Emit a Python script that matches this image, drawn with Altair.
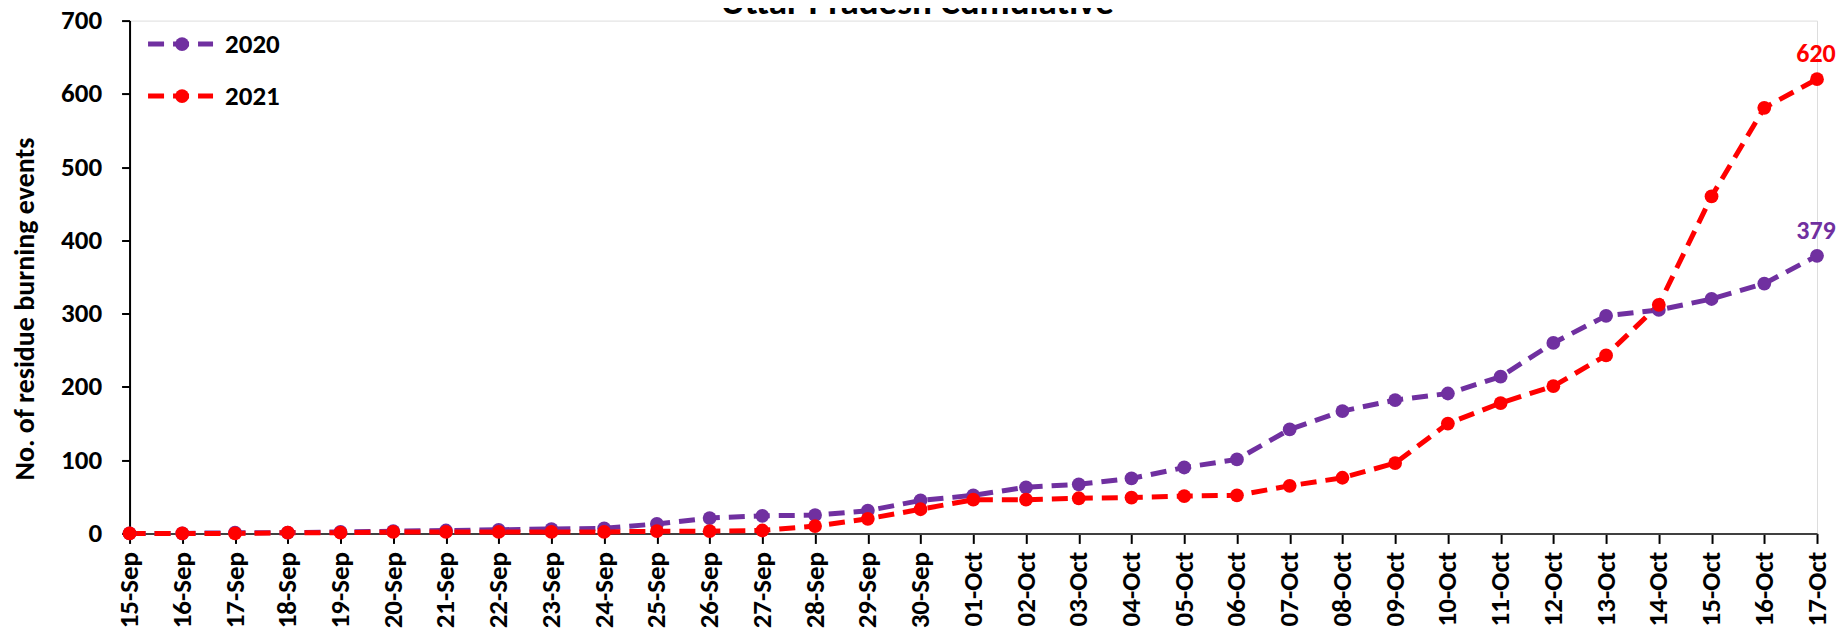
import altair as alt
import pandas as pd

dates = ["15-Sep", "16-Sep", "17-Sep", "18-Sep", "19-Sep", "20-Sep", "21-Sep", "22-Sep",
         "23-Sep", "24-Sep", "25-Sep", "26-Sep", "27-Sep", "28-Sep", "29-Sep", "30-Sep",
         "01-Oct", "02-Oct", "03-Oct", "04-Oct", "05-Oct", "06-Oct", "07-Oct", "08-Oct",
         "09-Oct", "10-Oct", "11-Oct", "12-Oct", "13-Oct", "14-Oct", "15-Oct", "16-Oct", "17-Oct"]
y2020 = [0, 0, 1, 1, 2, 3, 4, 5, 6, 7, 13, 21, 24, 25, 31, 45, 52, 63, 67, 75, 90, 101,
         142, 167, 182, 191, 214, 260, 297, 305, 320, 341, 379]
y2021 = [0, 0, 0, 1, 1, 2, 2, 2, 2, 2, 3, 3, 4, 10, 20, 33, 46, 46, 48, 49, 51, 52,
         65, 76, 96, 150, 178, 201, 243, 312, 460, 581, 620]
series = ["2020", "2021"]
colors = ["#7030A0", "#FF0000"]
title_text = "Uttar Pradesh Cumulative"
y_title = "No. of residue burning events"

FONT = "Carlito, Calibri, Lato, sans-serif"

rows = []
for s, vals in zip(series, [y2020, y2021]):
    for d, v in zip(dates, vals):
        rows.append({"date": d, "year": s, "value": v})
df = pd.DataFrame(rows)
last = pd.DataFrame([{"date": dates[-1], "year": s, "value": vals[-1]}
                     for s, vals in zip(series, [y2020, y2021])])

xenc = alt.X("date:N", sort=dates, scale=alt.Scale(type="point", padding=0),
             axis=alt.Axis(title=None, labelAngle=-90, labelFontSize=27, labelFont=FONT,
                           labelFontWeight="bold", labelColor="black", labelPadding=8,
                           tickSize=10, tickWidth=2, tickColor="black", domainColor="#404040",
                           domainWidth=2, labelOverlap=False, grid=False))
yenc = alt.Y("value:Q", scale=alt.Scale(domain=[0, 700], nice=False),
             axis=alt.Axis(values=[0, 100, 200, 300, 400, 500, 600, 700], title=y_title,
                           titleFont=FONT, titleFontSize=28, titleFontWeight="bold",
                           titleColor="black", titleAngle=-90, titleX=-96, titleY=288,
                           titleAlign="center", titleBaseline="alphabetic",
                           labelFontSize=27, labelFont=FONT, labelFontWeight="bold",
                           labelColor="black", labelPadding=20, tickSize=8, tickWidth=2,
                           tickColor="black", domainColor="black", domainWidth=2, grid=False))
cenc = alt.Color("year:N", scale=alt.Scale(domain=series, range=colors), legend=None)

lines = alt.Chart(df).mark_line(strokeDash=[16, 9], strokeWidth=5).encode(x=xenc, y=yenc, color=cenc)
points = alt.Chart(df).mark_circle(size=190, opacity=1).encode(x=xenc, y=yenc, color=cenc)
labels = alt.Chart(last).mark_text(font=FONT, fontSize=26, fontWeight="bold", dy=-17, dx=-1,
                                   align="center", baseline="alphabetic").encode(
    x=xenc, y=yenc, text="value:Q", color=cenc)

title = alt.Chart(alt.Data(values=[{"t": title_text}])).mark_text(
    font=FONT, fontSize=37, fontWeight="bold", align="center", baseline="alphabetic",
    color="black").encode(x=alt.value(788), y=alt.value(-6.5), text="t:N")

legend_layers = []
for i, (s, c) in enumerate(zip(series, colors)):
    ly = 23.5 + 52 * i
    src = alt.Data(values=[{"s": s}])
    legend_layers.append(alt.Chart(src).mark_rule(strokeDash=[16, 9], strokeWidth=5, color=c).encode(
        x=alt.value(18.5), x2=alt.value(83.5), y=alt.value(ly)))
    legend_layers.append(alt.Chart(src).mark_circle(size=190, opacity=1, color=c).encode(
        x=alt.value(52.5), y=alt.value(ly)))
    legend_layers.append(alt.Chart(src).mark_text(font=FONT, fontSize=27, fontWeight="bold",
                                                  align="left", baseline="middle", color="black").encode(
        x=alt.value(95.5), y=alt.value(ly + 1), text="s:N"))

chart = alt.layer(lines, points, labels, title, *legend_layers).properties(
    width=1688, height=513,
    autosize=alt.AutoSizeParams(type="none"),
    padding={"left": 121.6, "top": 12.5, "right": 22, "bottom": 95},
).configure_view(stroke=None).configure(background="white")

chart.save("out.html", embed_options={"renderer": "svg", "actions": False})
